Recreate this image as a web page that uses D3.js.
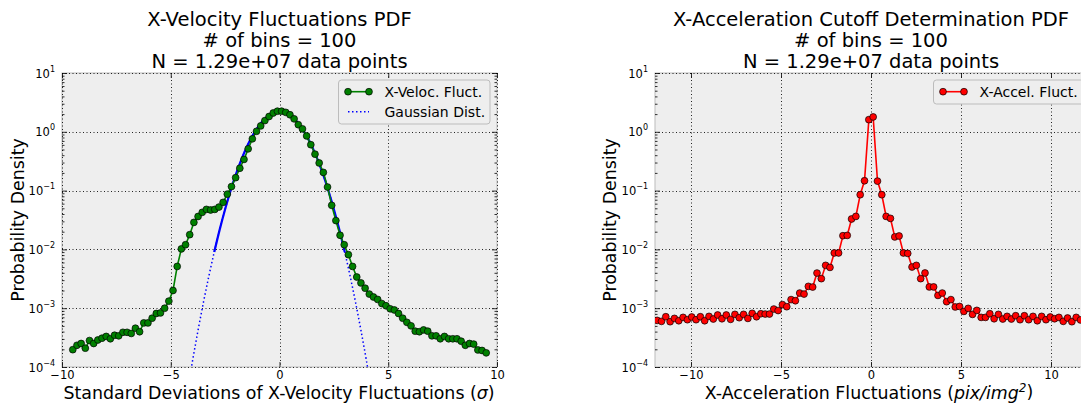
<!DOCTYPE html>
<html><head><meta charset="utf-8">
<script src="https://cdn.jsdelivr.net/npm/d3@7"></script>
<style>
body{margin:0;background:#fff;}
text{font-family:"DejaVu Sans",sans-serif;fill:#000;}
</style></head>
<body><svg id="c" width="1081" height="410"></svg>
<script>
// ---------- DATA ----------
const velX = [-9.504,-9.312,-9.120,-8.928,-8.736,-8.544,-8.352,-8.160,-7.968,-7.776,
-7.584,-7.392,-7.200,-7.008,-6.816,-6.624,-6.432,-6.240,-6.048,-5.856,
-5.664,-5.472,-5.280,-5.088,-4.896,-4.704,-4.512,-4.320,-4.128,-3.936,
-3.744,-3.552,-3.360,-3.168,-2.976,-2.784,-2.592,-2.400,-2.208,-2.016,
-1.824,-1.632,-1.440,-1.248,-1.056,-0.864,-0.672,-0.480,-0.288,-0.096,
0.096,0.288,0.480,0.672,0.864,1.056,1.248,1.440,1.632,1.824,
2.016,2.208,2.400,2.592,2.784,2.976,3.168,3.360,3.552,3.744,
3.936,4.128,4.320,4.512,4.704,4.896,5.088,5.280,5.472,5.664,
5.856,6.048,6.240,6.432,6.624,6.816,7.008,7.200,7.392,7.584,
7.776,7.968,8.160,8.352,8.544,8.736,8.928,9.120,9.312,9.504];
const velPdf = [1.97e-4,2.34e-4,2.51e-4,2.09e-4,2.82e-4,2.51e-4,2.88e-4,3.09e-4,3.31e-4,3.02e-4,
3.47e-4,3.39e-4,3.89e-4,3.89e-4,3.72e-4,4.57e-4,3.98e-4,5.62e-4,5.62e-4,6.76e-4,
8.13e-4,8.32e-4,1.0e-3,1.32e-3,2.0e-3,5.13e-3,1.02e-2,1.20e-2,1.78e-2,2.88e-2,
3.63e-2,4.27e-2,4.79e-2,4.68e-2,4.79e-2,5.25e-2,6.31e-2,8.71e-2,0.117,0.166,
0.240,0.339,0.513,0.759,1.02,1.26,1.55,1.82,2.09,2.24,
2.24,2.14,1.95,1.66,1.32,1.12,0.851,0.603,0.417,0.295,
0.204,0.115,0.0562,0.0309,0.0174,0.0120,8.13e-3,5.13e-3,3.39e-3,2.69e-3,
2.19e-3,1.74e-3,1.55e-3,1.41e-3,1.20e-3,1.10e-3,9.77e-4,9.33e-4,8.13e-4,6.76e-4,
5.75e-4,5.01e-4,4.07e-4,3.98e-4,4.27e-4,4.07e-4,3.39e-4,3.39e-4,3.02e-4,3.31e-4,
3.02e-4,3.02e-4,3.02e-4,2.75e-4,2.34e-4,2.51e-4,2.45e-4,1.95e-4,1.91e-4,1.74e-4];

const gaussX = [-4.25,-4.0,-3.75,-3.5,-3.25,-3.0,-2.75,-2.5,-2.25,-2.0,-1.75,-1.5,-1.25,-1.0,-0.75,-0.5,-0.25,0,
0.25,0.5,0.75,1.0,1.25,1.5,1.75,2.0,2.25,2.5,2.75,3.0,3.25,3.5,3.75,4.0,4.25];
const gaussPdf = [3.57e-5,1.26e-4,4.10e-4,1.24e-3,3.48e-3,9.02e-3,2.17e-2,4.83e-2,9.96e-2,0.191,0.338,0.555,0.843,1.19,1.55,1.88,2.11,2.19,
2.11,1.88,1.55,1.19,0.843,0.555,0.338,0.191,9.96e-2,4.83e-2,2.17e-2,9.02e-3,3.48e-3,1.24e-3,4.10e-4,1.26e-4,3.57e-5];

const accX = [-11.88,-11.64,-11.40,-11.16,-10.92,-10.68,-10.44,-10.20,-9.96,-9.72,
-9.48,-9.24,-9.00,-8.76,-8.52,-8.28,-8.04,-7.80,-7.56,-7.32,
-7.08,-6.84,-6.60,-6.36,-6.12,-5.88,-5.64,-5.40,-5.16,-4.92,
-4.68,-4.44,-4.20,-3.96,-3.72,-3.48,-3.24,-3.00,-2.76,-2.52,
-2.28,-2.04,-1.80,-1.56,-1.32,-1.08,-0.84,-0.60,-0.36,-0.12,
0.12,0.36,0.60,0.84,1.08,1.32,1.56,1.80,2.04,2.28,
2.52,2.76,3.00,3.24,3.48,3.72,3.96,4.20,4.44,4.68,
4.92,5.16,5.40,5.64,5.88,6.12,6.36,6.60,6.84,7.08,
7.32,7.56,7.80,8.04,8.28,8.52,8.76,9.00,9.24,9.48,
9.72,9.96,10.20,10.44,10.68,10.92,11.16,11.40,11.64,11.88];
const accPdf = [6.21e-4,5.97e-4,7.16e-4,5.89e-4,6.71e-4,6.12e-4,6.98e-4,6.37e-4,7.08e-4,6.37e-4,
7.16e-4,6.12e-4,7.26e-4,6.55e-4,7.66e-4,6.62e-4,7.66e-4,6.46e-4,7.85e-4,6.89e-4,
7.85e-4,6.71e-4,8.17e-4,7.16e-4,8.05e-4,7.96e-4,7.96e-4,9.68e-4,9.12e-4,1.15e-3,
1.06e-3,1.40e-3,1.34e-3,1.81e-3,1.74e-3,2.35e-3,2.29e-3,3.96e-3,3.18e-3,5.35e-3,
4.94e-3,8.69e-3,8.69e-3,1.71e-2,1.73e-2,3.29e-2,3.64e-2,8.51e-2,0.147,1.61,
1.79,0.145,8.51e-2,3.64e-2,3.37e-2,1.63e-2,1.69e-2,8.69e-3,8.55e-3,5.02e-3,
5.35e-3,3.18e-3,3.97e-3,2.30e-3,2.30e-3,1.65e-3,1.81e-3,1.29e-3,1.40e-3,1.05e-3,
1.07e-3,8.83e-4,9.93e-4,7.85e-4,9.18e-4,6.98e-4,6.98e-4,8.05e-4,6.62e-4,7.85e-4,
6.55e-4,7.26e-4,6.55e-4,7.45e-4,6.37e-4,7.45e-4,6.37e-4,7.26e-4,6.12e-4,7.26e-4,
6.37e-4,7.08e-4,6.62e-4,6.98e-4,5.97e-4,6.81e-4,5.89e-4,6.98e-4,6.31e-4,6.76e-4];

const velXTicks = [-10,-5,0,5,10];
const accXTicks = [-10,-5,0,5,10];
const yDecades = [-4,-3,-2,-1,0,1];
const velTitle = ["X-Velocity Fluctuations PDF","# of bins = 100","N = 1.29e+07 data points"];
const accTitle = ["X-Acceleration Cutoff Determination PDF","# of bins = 100","N = 1.29e+07 data points"];
const yLabel = "Probability Density";

// ---------- DRAW ----------
const svg = d3.select("#c");
const defs = svg.append("defs");
const minus = s => String(s).replace("-", "\u2212");

function panel(o){
  const g = svg.append("g");
  const x = d3.scaleLinear().domain(o.xDomain).range([o.left, o.right]);
  const y = d3.scaleLog().domain([1e-4, 10]).range([o.bottom, o.top]);
  const cid = "clip" + o.id;
  defs.append("clipPath").attr("id", cid).append("rect")
    .attr("x", o.left).attr("y", o.top).attr("width", o.right - o.left).attr("height", o.bottom - o.top);

  g.append("rect").attr("x", o.left).attr("y", o.top).attr("width", o.right - o.left)
    .attr("height", o.bottom - o.top).attr("fill", "#eeeeee");

  // spines
  g.append("rect").attr("x", o.left).attr("y", o.top).attr("width", o.right - o.left)
    .attr("height", o.bottom - o.top).attr("fill", "none").attr("stroke", "#bcbcbc").attr("stroke-width", 1);

  // grid
  const grid = g.append("g").attr("stroke", "#000").attr("stroke-width", 1).attr("stroke-dasharray", "1,2.5").attr("opacity", 0.85);
  grid.selectAll("line.v").data(o.xTicks).join("line").attr("class","v")
    .attr("x1", d => Math.round(x(d)) + 0.5).attr("x2", d => Math.round(x(d)) + 0.5)
    .attr("y1", o.top).attr("y2", o.bottom);
  grid.selectAll("line.h").data(yDecades).join("line").attr("class","h")
    .attr("y1", d => Math.round(y(Math.pow(10, d))) + 0.5).attr("y2", d => Math.round(y(Math.pow(10, d))) + 0.5)
    .attr("x1", o.left).attr("x2", Math.min(o.right, 1081));

  const majors = yDecades.map(d => Math.pow(10, d));
  const minors = [];
  yDecades.slice(0, -1).forEach(d => { for (let m = 2; m <= 9; m++) minors.push(m * Math.pow(10, d)); });

  const styleAxis = sel => { sel.select(".domain").remove(); sel.selectAll(".tick line").attr("stroke", "#000").attr("stroke-width", 0.8); };

  // bottom / top x axes (ticks inward)
  const xb = g.append("g").attr("transform", `translate(0,${o.bottom})`)
    .call(d3.axisBottom(x).tickValues(o.xTicks).tickSize(-5).tickPadding(4).tickFormat(d => minus(d)));
  styleAxis(xb);
  xb.selectAll("text").attr("font-size", 11.5).attr("font-family", "DejaVu Sans");
  const xt = g.append("g").attr("transform", `translate(0,${o.top})`)
    .call(d3.axisTop(x).tickValues(o.xTicks).tickSize(-5).tickFormat(""));
  styleAxis(xt);

  // y axes
  const yl = g.append("g").attr("transform", `translate(${o.left},0)`)
    .call(d3.axisLeft(y).tickValues(majors).tickSize(-5).tickPadding(7).tickFormat(() => ""));
  styleAxis(yl);
  yl.selectAll(".tick text").each(function(d){
    const t = d3.select(this).attr("font-size", 11.5).attr("font-family", "DejaVu Sans").attr("dy", "0.36em");
    t.append("tspan").text("10");
    t.append("tspan").attr("font-size", 8).attr("dy", "-0.75em").text(minus(Math.round(Math.log10(d))));
  });
  const ylm = g.append("g").attr("transform", `translate(${o.left},0)`)
    .call(d3.axisLeft(y).tickValues(minors).tickSize(-2.5).tickFormat(""));
  styleAxis(ylm);
  if (o.right <= 1081) {
    const yr = g.append("g").attr("transform", `translate(${o.right},0)`)
      .call(d3.axisRight(y).tickValues(majors).tickSize(-5).tickFormat(""));
    styleAxis(yr);
    const yrm = g.append("g").attr("transform", `translate(${o.right},0)`)
      .call(d3.axisRight(y).tickValues(minors).tickSize(-2.5).tickFormat(""));
    styleAxis(yrm);
  }

  // data
  const plot = g.append("g").attr("clip-path", `url(#${cid})`);
  if (o.extra) o.extra(plot, x, y);
  const pts = o.xs.map((v, i) => [v, o.ys[i]]);
  plot.append("path").datum(pts).attr("fill", "none").attr("stroke", o.color).attr("stroke-width", 1.6)
    .attr("d", d3.line().x(d => x(d[0])).y(d => y(d[1])));
  plot.selectAll("circle").data(pts).join("circle")
    .attr("cx", d => x(d[0])).attr("cy", d => y(d[1])).attr("r", 3.4)
    .attr("fill", o.color).attr("stroke", "#000").attr("stroke-width", 0.7);

  // titles
  const cx = (o.left + o.right) / 2;
  o.title.forEach((t, i) => g.append("text").attr("x", cx).attr("y", 25.5 + i * 21)
    .attr("text-anchor", "middle").attr("font-size", 19.5).text(t));

  // x label
  const xlab = g.append("text").attr("x", o.xlabelX).attr("y", 399).attr("text-anchor", "middle").attr("font-size", 17.4);
  o.xlabel(xlab);

  // y label
  g.append("text").attr("transform", `translate(${o.ylabelX},${(o.top + o.bottom) / 2}) rotate(-90)`)
    .attr("text-anchor", "middle").attr("font-size", 17.4).text(yLabel);

  // legend
  const lg = g.append("g");
  lg.append("rect").attr("x", o.legend.x).attr("y", o.legend.y).attr("width", o.legend.w).attr("height", o.legend.h)
    .attr("rx", 3).attr("fill", "#eeeeee").attr("stroke", "#bcbcbc").attr("stroke-width", 1);
  o.legend.items.forEach((it, i) => {
    const yy = o.legend.y + 11.7 + i * 20;
    const x0 = o.legend.x + 9.5, x1 = x0 + 21;
    lg.append("line").attr("x1", x0).attr("x2", x1).attr("y1", yy).attr("y2", yy)
      .attr("stroke", it.color).attr("stroke-width", it.dash ? 1.5 : 1.6).attr("stroke-dasharray", it.dash || null);
    if (it.marker) [x0, x1].forEach(xx => lg.append("circle").attr("cx", xx).attr("cy", yy).attr("r", 3.4)
      .attr("fill", it.color).attr("stroke", "#000").attr("stroke-width", 0.7));
    lg.append("text").attr("x", o.legend.x + 46).attr("y", yy + 5).attr("font-size", 14).text(it.label);
  });
}

panel({
  id: "v", left: 62, right: 497, top: 73, bottom: 367, xDomain: [-10, 10], xTicks: velXTicks,
  xs: velX, ys: velPdf, color: "#008000", title: velTitle, ylabelX: 24, xlabelX: 279,
  xlabel: t => { t.append("tspan").text("Standard Deviations of X-Velocity Fluctuations (");
                 t.append("tspan").attr("font-style", "italic").text("\u03c3");
                 t.append("tspan").text(")"); },
  extra: (plot, x, y) => {
    const gp = gaussX.map((v, i) => [v, gaussPdf[i]]);
    const ln = d3.line().x(d => x(d[0])).y(d => y(d[1])).curve(d3.curveMonotoneX);
    plot.append("path").datum(gp).attr("fill", "none").attr("stroke", "#0000ff").attr("stroke-width", 1.5)
      .attr("stroke-dasharray", "1.5,2.5").attr("d", ln);
    plot.append("path").datum(gp.filter(d => Math.abs(d[0]) <= 3)).attr("fill", "none").attr("stroke", "#0000ff")
      .attr("stroke-width", 2.2).attr("d", ln);
  },
  legend: { x: 338.5, y: 80, w: 151.5, h: 44, items: [
    { label: "X-Veloc. Fluct.", color: "#008000", marker: true },
    { label: "Gaussian Dist.", color: "#0000ff", dash: "1.5,2.5" } ] }
});

panel({
  id: "a", left: 655, right: 1087, top: 73, bottom: 367, xDomain: [-12, 12], xTicks: accXTicks,
  xs: accX, ys: accPdf, color: "#ff0000", title: accTitle, ylabelX: 616, xlabelX: 869,
  xlabel: t => { t.append("tspan").text("X-Acceleration Fluctuations (");
                 t.append("tspan").attr("font-style", "italic").text("pix/img");
                 t.append("tspan").attr("font-style", "italic").attr("font-size", 12).attr("dy", "-0.6em").text("2");
                 t.append("tspan").attr("dy", "0.38em").text(")"); },
  legend: { x: 933.5, y: 80, w: 150, h: 24, items: [
    { label: "X-Accel. Fluct.", color: "#ff0000", marker: true } ] }
});
</script>
</body></html>
